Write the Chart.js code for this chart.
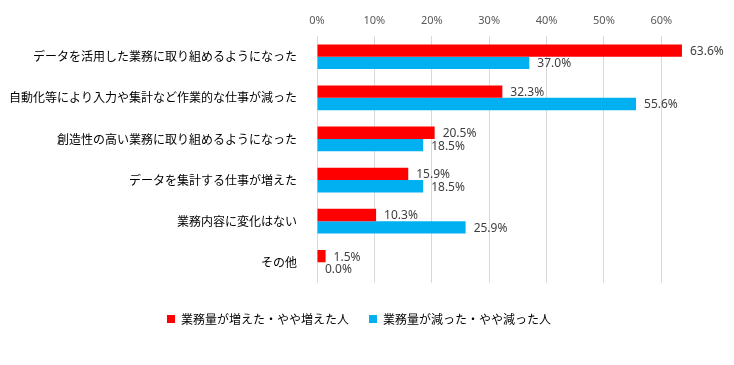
<!DOCTYPE html>
<html>
<head>
<meta charset="utf-8">
<script src="https://cdn.jsdelivr.net/npm/chart.js@4/dist/chart.umd.min.js"></script>
<style>
  html, body { margin: 0; padding: 0; background: #fff; }
  #wrap { width: 734px; height: 365px; }
</style>
</head>
<body>
<div id="wrap"><canvas id="chart" width="734" height="365"></canvas></div>
<script>
// ─── Data ────────────────────────────────────────────────────────────────────
const categories = [
    'データを活用した業務に取り組めるようになった',
    '自動化等により入力や集計など作業的な仕事が減った',
    '創造性の高い業務に取り組めるようになった',
    'データを集計する仕事が増えた',
    '業務内容に変化はない',
    'その他'
];
const seriesNames  = ['業務量が増えた・やや増えた人', '業務量が減った・やや減った人'];
const increased    = [63.6, 32.3, 20.5, 15.9, 10.3, 1.5];
const decreased    = [37.0, 55.6, 18.5, 18.5, 25.9, 0.0];
const tickValues   = [0, 10, 20, 30, 40, 50, 60];

const JP_FONT  = '"Noto Sans CJK JP", "Noto Sans", sans-serif';
const NUM_FONT = '"Noto Sans", "Liberation Sans", sans-serif';

// ─── Value labels at bar ends ────────────────────────────────────────────────
const valueLabels = {
    id: 'valueLabels',
    afterLayout(chart) {
        // legend sits a bit right of the canvas centre in the original
        chart.legend.left  += 14;
        chart.legend.right += 14;
    },
    afterDatasetsDraw(chart) {
        const ctx = chart.ctx;
        ctx.save();
        ctx.font = '12px ' + NUM_FONT;
        ctx.fillStyle = '#404040';
        ctx.textAlign = 'left';
        ctx.textBaseline = 'middle';
        chart.data.datasets.forEach((ds, i) => {
            chart.getDatasetMeta(i).data.forEach((bar, j) => {
                ctx.fillText(ds.data[j].toFixed(1) + '%', bar.x + 8, bar.y + 1);
            });
        });
        ctx.restore();
    }
};

new Chart(document.getElementById('chart'), {
    type: 'bar',
    data: {
        labels: categories,
        datasets: [
            { label: seriesNames[0], data: increased, backgroundColor: '#ff0000' },
            { label: seriesNames[1], data: decreased, backgroundColor: '#00b0f0' }
        ]
    },
    options: {
        indexAxis: 'y',
        responsive: false,
        animation: false,
        layout: { padding: { top: 5, right: 44, bottom: 30, left: 0 } },
        datasets: { bar: { categoryPercentage: 0.6, barPercentage: 1 } },
        scales: {
            x: {
                position: 'top',
                min: 0,
                max: 65,
                afterBuildTicks: axis => { axis.ticks = tickValues.map(v => ({ value: v })); },
                ticks: {
                    callback: v => v + '%',
                    color: '#595959',
                    font: { family: NUM_FONT, size: 11 },
                    padding: 9
                },
                grid: { color: '#d9d9d9', drawTicks: false },
                border: { display: false }
            },
            y: {
                afterFit: scale => { scale.width = 317; },
                ticks: {
                    color: '#000',
                    font: { family: JP_FONT, size: 12 },
                    padding: 12
                },
                grid: { display: false },
                border: { display: false }
            }
        },
        plugins: {
            legend: {
                position: 'bottom',
                title: { display: true, text: '', font: { size: 1 }, padding: { top: 9, bottom: 0 } },
                labels: {
                    boxWidth: 8,
                    boxHeight: 8,
                    padding: 20,
                    color: '#000',
                    font: { family: JP_FONT, size: 12 }
                }
            },
            tooltip: { enabled: false }
        }
    },
    plugins: [valueLabels]
});
</script>
</body>
</html>
